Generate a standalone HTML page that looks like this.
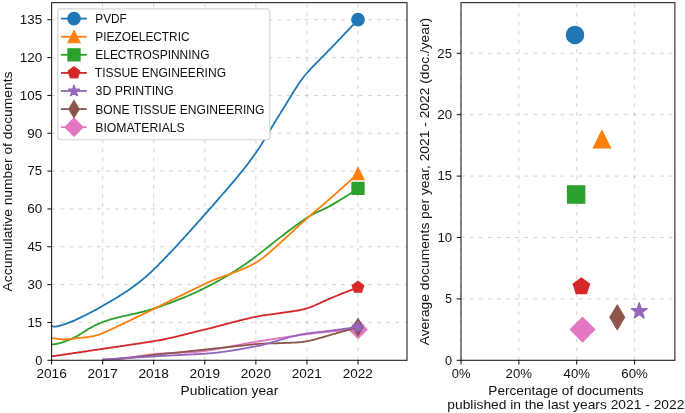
<!DOCTYPE html>
<html><head><meta charset="utf-8"><title>chart</title>
<style>html,body{margin:0;padding:0;background:#fff;width:685px;height:413px;overflow:hidden}</style>
</head><body>
<svg width="685" height="413" viewBox="0 0 685 413" style="display:block;will-change:transform">
<rect width="685" height="413" fill="#fff"/>
<g>
<path d="M51.6 360.3V2.66" stroke="#b0b0b0" stroke-opacity="0.6" stroke-width="0.97" stroke-dasharray="3.6 5.45" fill="none"/>
<path d="M102.67 360.3V2.66" stroke="#b0b0b0" stroke-opacity="0.6" stroke-width="0.97" stroke-dasharray="3.6 5.45" fill="none"/>
<path d="M153.73 360.3V2.66" stroke="#b0b0b0" stroke-opacity="0.6" stroke-width="0.97" stroke-dasharray="3.6 5.45" fill="none"/>
<path d="M204.8 360.3V2.66" stroke="#b0b0b0" stroke-opacity="0.6" stroke-width="0.97" stroke-dasharray="3.6 5.45" fill="none"/>
<path d="M255.87 360.3V2.66" stroke="#b0b0b0" stroke-opacity="0.6" stroke-width="0.97" stroke-dasharray="3.6 5.45" fill="none"/>
<path d="M306.94 360.3V2.66" stroke="#b0b0b0" stroke-opacity="0.6" stroke-width="0.97" stroke-dasharray="3.6 5.45" fill="none"/>
<path d="M358 360.3V2.66" stroke="#b0b0b0" stroke-opacity="0.6" stroke-width="0.97" stroke-dasharray="3.6 5.45" fill="none"/>
<path d="M51.6 360.3H407" stroke="#b0b0b0" stroke-opacity="0.6" stroke-width="0.97" stroke-dasharray="3.6 5.45" fill="none"/>
<path d="M51.6 322.46H407" stroke="#b0b0b0" stroke-opacity="0.6" stroke-width="0.97" stroke-dasharray="3.6 5.45" fill="none"/>
<path d="M51.6 284.62H407" stroke="#b0b0b0" stroke-opacity="0.6" stroke-width="0.97" stroke-dasharray="3.6 5.45" fill="none"/>
<path d="M51.6 246.78H407" stroke="#b0b0b0" stroke-opacity="0.6" stroke-width="0.97" stroke-dasharray="3.6 5.45" fill="none"/>
<path d="M51.6 208.94H407" stroke="#b0b0b0" stroke-opacity="0.6" stroke-width="0.97" stroke-dasharray="3.6 5.45" fill="none"/>
<path d="M51.6 171.1H407" stroke="#b0b0b0" stroke-opacity="0.6" stroke-width="0.97" stroke-dasharray="3.6 5.45" fill="none"/>
<path d="M51.6 133.26H407" stroke="#b0b0b0" stroke-opacity="0.6" stroke-width="0.97" stroke-dasharray="3.6 5.45" fill="none"/>
<path d="M51.6 95.42H407" stroke="#b0b0b0" stroke-opacity="0.6" stroke-width="0.97" stroke-dasharray="3.6 5.45" fill="none"/>
<path d="M51.6 57.58H407" stroke="#b0b0b0" stroke-opacity="0.6" stroke-width="0.97" stroke-dasharray="3.6 5.45" fill="none"/>
<path d="M51.6 19.74H407" stroke="#b0b0b0" stroke-opacity="0.6" stroke-width="0.97" stroke-dasharray="3.6 5.45" fill="none"/>
<path d="M102.67 359.75 103.74 359.68 104.8 359.6 105.87 359.53 106.94 359.45 108.01 359.37 109.08 359.29 110.15 359.2 111.21 359.11 112.28 359.03 113.35 358.93 114.42 358.84 115.49 358.75 116.56 358.65 117.62 358.55 118.69 358.45 119.76 358.35 120.83 358.25 121.9 358.14 122.97 358.04 124.03 357.93 125.1 357.82 126.17 357.71 127.24 357.6 128.31 357.49 129.38 357.37 130.44 357.25 131.51 357.12 132.58 356.99 133.65 356.85 134.72 356.71 135.79 356.56 136.85 356.41 137.92 356.26 138.99 356.11 140.06 355.96 141.13 355.8 142.2 355.65 143.26 355.49 144.33 355.34 145.4 355.19 146.47 355.03 147.54 354.89 148.61 354.74 149.67 354.6 150.74 354.46 151.81 354.33 152.88 354.2 153.95 354.08 155.02 353.96 156.08 353.85 157.15 353.75 158.22 353.66 159.29 353.58 160.36 353.5 161.43 353.42 162.49 353.36 163.56 353.29 164.63 353.24 165.7 353.18 166.77 353.14 167.84 353.09 168.9 353.05 169.97 353.01 171.04 352.97 172.11 352.94 173.18 352.91 174.25 352.88 175.31 352.85 176.38 352.82 177.45 352.79 178.52 352.77 179.59 352.74 180.66 352.71 181.72 352.68 182.79 352.65 183.86 352.61 184.93 352.58 186 352.54 187.07 352.5 188.13 352.45 189.2 352.4 190.27 352.35 191.34 352.29 192.41 352.23 193.48 352.16 194.54 352.08 195.61 352 196.68 351.91 197.75 351.82 198.82 351.72 199.89 351.61 200.95 351.49 202.02 351.37 203.09 351.23 204.16 351.09 205.23 350.94 206.3 350.78 207.37 350.62 208.43 350.45 209.5 350.28 210.57 350.11 211.64 349.94 212.71 349.76 213.78 349.58 214.84 349.39 215.91 349.2 216.98 349.01 218.05 348.82 219.12 348.63 220.19 348.43 221.25 348.23 222.32 348.03 223.39 347.83 224.46 347.63 225.53 347.42 226.6 347.22 227.66 347.01 228.73 346.8 229.8 346.6 230.87 346.39 231.94 346.18 233.01 345.97 234.07 345.76 235.14 345.56 236.21 345.35 237.28 345.14 238.35 344.94 239.42 344.73 240.48 344.53 241.55 344.32 242.62 344.12 243.69 343.92 244.76 343.72 245.83 343.53 246.89 343.33 247.96 343.14 249.03 342.95 250.1 342.76 251.17 342.58 252.24 342.4 253.3 342.22 254.37 342.04 255.44 341.87 256.51 341.7 257.58 341.53 258.65 341.36 259.71 341.19 260.78 341.02 261.85 340.85 262.92 340.68 263.99 340.51 265.06 340.34 266.12 340.18 267.19 340.01 268.26 339.84 269.33 339.67 270.4 339.51 271.47 339.34 272.53 339.17 273.6 339.01 274.67 338.84 275.74 338.68 276.81 338.51 277.88 338.35 278.94 338.18 280.01 338.02 281.08 337.86 282.15 337.7 283.22 337.54 284.29 337.38 285.35 337.22 286.42 337.06 287.49 336.9 288.56 336.74 289.63 336.59 290.7 336.43 291.76 336.28 292.83 336.12 293.9 335.97 294.97 335.82 296.04 335.67 297.11 335.52 298.17 335.37 299.24 335.22 300.31 335.08 301.38 334.93 302.45 334.79 303.52 334.65 304.58 334.51 305.65 334.37 306.72 334.23 307.79 334.09 308.86 333.96 309.93 333.82 310.99 333.69 312.06 333.56 313.13 333.43 314.2 333.31 315.27 333.18 316.34 333.06 317.4 332.94 318.47 332.82 319.54 332.7 320.61 332.59 321.68 332.47 322.75 332.36 323.81 332.25 324.88 332.14 325.95 332.03 327.02 331.92 328.09 331.82 329.16 331.71 330.22 331.61 331.29 331.51 332.36 331.41 333.43 331.31 334.5 331.22 335.57 331.12 336.64 331.03 337.7 330.94 338.77 330.85 339.84 330.76 340.91 330.67 341.98 330.58 343.05 330.49 344.11 330.41 345.18 330.32 346.25 330.24 347.32 330.16 348.39 330.08 349.46 330 350.52 329.92 351.59 329.84 352.66 329.77 353.73 329.69 354.8 329.62 355.87 329.54 356.93 329.47 358 329.4" fill="none" stroke="#e377c2" stroke-width="1.815" stroke-linejoin="round" stroke-linecap="butt"/>
<path d="M358 320.42 L366.99 329.4 L358 338.38 L349.02 329.4Z" fill="#e377c2" stroke="#e377c2" stroke-width="1.21" stroke-linejoin="miter"/>
<path d="M102.67 359.75 103.74 359.7 104.8 359.65 105.87 359.6 106.94 359.55 108.01 359.5 109.08 359.45 110.15 359.39 111.21 359.33 112.28 359.27 113.35 359.21 114.42 359.14 115.49 359.08 116.56 359 117.62 358.93 118.69 358.85 119.76 358.77 120.83 358.69 121.9 358.6 122.97 358.51 124.03 358.41 125.1 358.31 126.17 358.21 127.24 358.1 128.31 357.99 129.38 357.87 130.44 357.75 131.51 357.63 132.58 357.51 133.65 357.38 134.72 357.25 135.79 357.13 136.85 357 137.92 356.87 138.99 356.74 140.06 356.61 141.13 356.47 142.2 356.34 143.26 356.21 144.33 356.08 145.4 355.95 146.47 355.83 147.54 355.7 148.61 355.57 149.67 355.45 150.74 355.33 151.81 355.21 152.88 355.09 153.95 354.98 155.02 354.86 156.08 354.75 157.15 354.64 158.22 354.52 159.29 354.41 160.36 354.3 161.43 354.18 162.49 354.07 163.56 353.96 164.63 353.85 165.7 353.73 166.77 353.62 167.84 353.51 168.9 353.39 169.97 353.28 171.04 353.17 172.11 353.05 173.18 352.94 174.25 352.83 175.31 352.72 176.38 352.6 177.45 352.49 178.52 352.38 179.59 352.27 180.66 352.15 181.72 352.04 182.79 351.93 183.86 351.81 184.93 351.7 186 351.59 187.07 351.48 188.13 351.36 189.2 351.25 190.27 351.14 191.34 351.02 192.41 350.91 193.48 350.8 194.54 350.69 195.61 350.57 196.68 350.46 197.75 350.35 198.82 350.23 199.89 350.12 200.95 350.01 202.02 349.89 203.09 349.78 204.16 349.67 205.23 349.55 206.3 349.44 207.37 349.33 208.43 349.21 209.5 349.1 210.57 348.98 211.64 348.87 212.71 348.75 213.78 348.64 214.84 348.52 215.91 348.41 216.98 348.29 218.05 348.18 219.12 348.06 220.19 347.94 221.25 347.83 222.32 347.71 223.39 347.59 224.46 347.48 225.53 347.36 226.6 347.25 227.66 347.13 228.73 347.01 229.8 346.9 230.87 346.78 231.94 346.66 233.01 346.55 234.07 346.43 235.14 346.31 236.21 346.2 237.28 346.08 238.35 345.97 239.42 345.85 240.48 345.74 241.55 345.62 242.62 345.5 243.69 345.39 244.76 345.28 245.83 345.16 246.89 345.05 247.96 344.93 249.03 344.82 250.1 344.71 251.17 344.59 252.24 344.48 253.3 344.37 254.37 344.26 255.44 344.14 256.51 344.04 257.58 343.94 258.65 343.85 259.71 343.77 260.78 343.71 261.85 343.65 262.92 343.6 263.99 343.55 265.06 343.52 266.12 343.48 267.19 343.45 268.26 343.43 269.33 343.41 270.4 343.39 271.47 343.37 272.53 343.35 273.6 343.33 274.67 343.31 275.74 343.29 276.81 343.26 277.88 343.24 278.94 343.2 280.01 343.16 281.08 343.12 282.15 343.07 283.22 343.02 284.29 342.98 285.35 342.94 286.42 342.9 287.49 342.87 288.56 342.83 289.63 342.79 290.7 342.75 291.76 342.71 292.83 342.67 293.9 342.61 294.97 342.56 296.04 342.49 297.11 342.42 298.17 342.34 299.24 342.25 300.31 342.14 301.38 342.03 302.45 341.9 303.52 341.76 304.58 341.6 305.65 341.43 306.72 341.24 307.79 341.03 308.86 340.82 309.93 340.59 310.99 340.35 312.06 340.1 313.13 339.85 314.2 339.58 315.27 339.31 316.34 339.03 317.4 338.74 318.47 338.45 319.54 338.16 320.61 337.86 321.68 337.55 322.75 337.24 323.81 336.93 324.88 336.62 325.95 336.31 327.02 335.99 328.09 335.68 329.16 335.36 330.22 335.05 331.29 334.74 332.36 334.43 333.43 334.12 334.5 333.82 335.57 333.51 336.64 333.21 337.7 332.9 338.77 332.6 339.84 332.29 340.91 331.99 341.98 331.68 343.05 331.37 344.11 331.07 345.18 330.76 346.25 330.45 347.32 330.15 348.39 329.84 349.46 329.53 350.52 329.22 351.59 328.9 352.66 328.59 353.73 328.27 354.8 327.96 355.87 327.64 356.93 327.32 358 327" fill="none" stroke="#8c564b" stroke-width="1.815" stroke-linejoin="round" stroke-linecap="butt"/>
<path d="M358 318.44 L363.14 327 L358 335.56 L352.87 327Z" fill="#8c564b" stroke="#8c564b" stroke-width="1.21" stroke-linejoin="miter"/>
<path d="M102.67 359.75 103.74 359.67 104.8 359.6 105.87 359.52 106.94 359.45 108.01 359.37 109.08 359.3 110.15 359.22 111.21 359.15 112.28 359.08 113.35 359 114.42 358.93 115.49 358.85 116.56 358.78 117.62 358.71 118.69 358.64 119.76 358.56 120.83 358.49 121.9 358.42 122.97 358.35 124.03 358.28 125.1 358.21 126.17 358.13 127.24 358.06 128.31 357.99 129.38 357.92 130.44 357.85 131.51 357.78 132.58 357.71 133.65 357.65 134.72 357.58 135.79 357.51 136.85 357.44 137.92 357.38 138.99 357.31 140.06 357.24 141.13 357.18 142.2 357.11 143.26 357.04 144.33 356.98 145.4 356.91 146.47 356.85 147.54 356.78 148.61 356.72 149.67 356.65 150.74 356.58 151.81 356.52 152.88 356.45 153.95 356.39 155.02 356.32 156.08 356.26 157.15 356.19 158.22 356.13 159.29 356.07 160.36 356.01 161.43 355.95 162.49 355.89 163.56 355.83 164.63 355.78 165.7 355.72 166.77 355.66 167.84 355.61 168.9 355.55 169.97 355.5 171.04 355.45 172.11 355.39 173.18 355.34 174.25 355.29 175.31 355.23 176.38 355.18 177.45 355.13 178.52 355.08 179.59 355.03 180.66 354.97 181.72 354.92 182.79 354.87 183.86 354.82 184.93 354.76 186 354.71 187.07 354.66 188.13 354.61 189.2 354.55 190.27 354.5 191.34 354.44 192.41 354.39 193.48 354.33 194.54 354.28 195.61 354.22 196.68 354.16 197.75 354.11 198.82 354.05 199.89 353.99 200.95 353.93 202.02 353.86 203.09 353.8 204.16 353.74 205.23 353.67 206.3 353.6 207.37 353.53 208.43 353.45 209.5 353.36 210.57 353.27 211.64 353.18 212.71 353.08 213.78 352.97 214.84 352.86 215.91 352.75 216.98 352.63 218.05 352.5 219.12 352.38 220.19 352.25 221.25 352.11 222.32 351.97 223.39 351.83 224.46 351.68 225.53 351.53 226.6 351.38 227.66 351.22 228.73 351.06 229.8 350.9 230.87 350.74 231.94 350.57 233.01 350.4 234.07 350.22 235.14 350.05 236.21 349.87 237.28 349.69 238.35 349.5 239.42 349.32 240.48 349.13 241.55 348.94 242.62 348.75 243.69 348.56 244.76 348.37 245.83 348.17 246.89 347.98 247.96 347.78 249.03 347.58 250.1 347.38 251.17 347.18 252.24 346.98 253.3 346.78 254.37 346.58 255.44 346.38 256.51 346.18 257.58 345.96 258.65 345.74 259.71 345.51 260.78 345.27 261.85 345.02 262.92 344.76 263.99 344.49 265.06 344.22 266.12 343.94 267.19 343.66 268.26 343.37 269.33 343.07 270.4 342.77 271.47 342.47 272.53 342.16 273.6 341.85 274.67 341.54 275.74 341.23 276.81 340.91 277.88 340.6 278.94 340.28 280.01 339.96 281.08 339.65 282.15 339.33 283.22 339.02 284.29 338.71 285.35 338.4 286.42 338.09 287.49 337.79 288.56 337.49 289.63 337.2 290.7 336.91 291.76 336.63 292.83 336.35 293.9 336.08 294.97 335.82 296.04 335.56 297.11 335.31 298.17 335.07 299.24 334.84 300.31 334.62 301.38 334.41 302.45 334.21 303.52 334.02 304.58 333.85 305.65 333.68 306.72 333.53 307.79 333.39 308.86 333.25 309.93 333.11 310.99 332.98 312.06 332.84 313.13 332.71 314.2 332.59 315.27 332.46 316.34 332.33 317.4 332.21 318.47 332.09 319.54 331.96 320.61 331.84 321.68 331.71 322.75 331.59 323.81 331.47 324.88 331.34 325.95 331.21 327.02 331.09 328.09 330.96 329.16 330.82 330.22 330.69 331.29 330.55 332.36 330.41 333.43 330.27 334.5 330.13 335.57 329.99 336.64 329.85 337.7 329.71 338.77 329.57 339.84 329.43 340.91 329.29 341.98 329.15 343.05 329.01 344.11 328.87 345.18 328.73 346.25 328.59 347.32 328.45 348.39 328.3 349.46 328.16 350.52 328.02 351.59 327.88 352.66 327.73 353.73 327.59 354.8 327.44 355.87 327.3 356.93 327.15 358 327" fill="none" stroke="#9467bd" stroke-width="1.815" stroke-linejoin="round" stroke-linecap="butt"/>
<path d="M358 320.95 L356.64 325.13 L352.25 325.13 L355.8 327.71 L354.45 331.89 L358 329.31 L361.56 331.89 L360.2 327.71 L363.76 325.13 L359.36 325.13Z" fill="#9467bd" stroke="#9467bd" stroke-width="1.21" stroke-linejoin="bevel"/>
<path d="M51.6 356.4 52.88 356.21 54.16 356.02 55.45 355.83 56.73 355.65 58.01 355.46 59.29 355.27 60.57 355.08 61.86 354.89 63.14 354.7 64.42 354.51 65.7 354.32 66.98 354.13 68.27 353.94 69.55 353.75 70.83 353.56 72.11 353.37 73.39 353.19 74.68 353 75.96 352.81 77.24 352.62 78.52 352.43 79.8 352.24 81.09 352.05 82.37 351.86 83.65 351.67 84.93 351.48 86.21 351.29 87.5 351.1 88.78 350.91 90.06 350.72 91.34 350.53 92.62 350.34 93.91 350.15 95.19 349.96 96.47 349.77 97.75 349.58 99.03 349.39 100.32 349.2 101.6 349.01 102.88 348.82 104.16 348.63 105.44 348.44 106.73 348.25 108.01 348.06 109.29 347.87 110.57 347.68 111.85 347.49 113.14 347.31 114.42 347.12 115.7 346.93 116.98 346.74 118.26 346.55 119.55 346.36 120.83 346.17 122.11 345.98 123.39 345.79 124.67 345.6 125.96 345.41 127.24 345.22 128.52 345.03 129.8 344.84 131.09 344.65 132.37 344.46 133.65 344.27 134.93 344.08 136.21 343.88 137.5 343.69 138.78 343.5 140.06 343.3 141.34 343.11 142.62 342.91 143.91 342.72 145.19 342.52 146.47 342.33 147.75 342.13 149.03 341.93 150.32 341.73 151.6 341.53 152.88 341.33 154.16 341.13 155.44 340.92 156.73 340.71 158.01 340.48 159.29 340.25 160.57 340.01 161.85 339.77 163.14 339.51 164.42 339.25 165.7 338.99 166.98 338.71 168.26 338.44 169.55 338.15 170.83 337.87 172.11 337.57 173.39 337.28 174.67 336.98 175.96 336.67 177.24 336.36 178.52 336.05 179.8 335.74 181.08 335.42 182.37 335.1 183.65 334.78 184.93 334.46 186.21 334.14 187.49 333.82 188.78 333.49 190.06 333.17 191.34 332.84 192.62 332.52 193.9 332.19 195.19 331.87 196.47 331.55 197.75 331.22 199.03 330.91 200.31 330.59 201.6 330.27 202.88 329.96 204.16 329.65 205.44 329.35 206.72 329.04 208.01 328.72 209.29 328.41 210.57 328.09 211.85 327.77 213.13 327.44 214.42 327.11 215.7 326.78 216.98 326.45 218.26 326.12 219.54 325.78 220.83 325.44 222.11 325.11 223.39 324.77 224.67 324.43 225.95 324.09 227.24 323.75 228.52 323.42 229.8 323.08 231.08 322.74 232.36 322.41 233.65 322.07 234.93 321.74 236.21 321.41 237.49 321.08 238.77 320.75 240.06 320.43 241.34 320.11 242.62 319.79 243.9 319.48 245.18 319.17 246.47 318.86 247.75 318.56 249.03 318.26 250.31 317.96 251.59 317.67 252.88 317.39 254.16 317.11 255.44 316.84 256.72 316.57 258 316.32 259.29 316.09 260.57 315.87 261.85 315.65 263.13 315.45 264.41 315.26 265.7 315.07 266.98 314.89 268.26 314.72 269.54 314.55 270.82 314.38 272.11 314.21 273.39 314.04 274.67 313.87 275.95 313.7 277.23 313.52 278.52 313.34 279.8 313.15 281.08 312.95 282.36 312.75 283.65 312.56 284.93 312.38 286.21 312.2 287.49 312.03 288.77 311.85 290.06 311.68 291.34 311.51 292.62 311.33 293.9 311.14 295.18 310.94 296.47 310.73 297.75 310.51 299.03 310.27 300.31 310.01 301.59 309.73 302.88 309.43 304.16 309.1 305.44 308.75 306.72 308.37 308 307.95 309.29 307.51 310.57 307.04 311.85 306.55 313.13 306.04 314.41 305.51 315.7 304.96 316.98 304.4 318.26 303.83 319.54 303.25 320.82 302.66 322.11 302.07 323.39 301.48 324.67 300.9 325.95 300.31 327.23 299.74 328.52 299.17 329.8 298.61 331.08 298.07 332.36 297.54 333.64 297.03 334.93 296.51 336.21 296 337.49 295.48 338.77 294.96 340.05 294.44 341.34 293.93 342.62 293.41 343.9 292.89 345.18 292.38 346.46 291.86 347.75 291.35 349.03 290.84 350.31 290.33 351.59 289.82 352.87 289.31 354.16 288.8 355.44 288.3 356.72 287.8 358 287.3" fill="none" stroke="#d62728" stroke-width="1.815" stroke-linejoin="round" stroke-linecap="butt"/>
<path d="M358 281.25 L352.25 285.43 L354.45 292.19 L361.56 292.19 L363.76 285.43Z" fill="#d62728" stroke="#d62728" stroke-width="1.21" stroke-linejoin="miter"/>
<path d="M51.6 344.55 52.88 344.39 54.16 344.21 55.45 344.01 56.73 343.77 58.01 343.5 59.29 343.21 60.57 342.88 61.86 342.51 63.14 342.12 64.42 341.68 65.7 341.22 66.98 340.73 68.27 340.22 69.55 339.69 70.83 339.13 72.11 338.55 73.39 337.94 74.68 337.3 75.96 336.63 77.24 335.94 78.52 335.21 79.8 334.45 81.09 333.65 82.37 332.84 83.65 332.02 84.93 331.2 86.21 330.39 87.5 329.6 88.78 328.84 90.06 328.11 91.34 327.41 92.62 326.72 93.91 326.05 95.19 325.4 96.47 324.77 97.75 324.17 99.03 323.59 100.32 323.03 101.6 322.51 102.88 322.02 104.16 321.55 105.44 321.1 106.73 320.67 108.01 320.26 109.29 319.85 110.57 319.47 111.85 319.09 113.14 318.73 114.42 318.38 115.7 318.04 116.98 317.71 118.26 317.39 119.55 317.07 120.83 316.77 122.11 316.47 123.39 316.17 124.67 315.88 125.96 315.59 127.24 315.31 128.52 315.03 129.8 314.75 131.09 314.47 132.37 314.18 133.65 313.9 134.93 313.62 136.21 313.33 137.5 313.03 138.78 312.74 140.06 312.43 141.34 312.12 142.62 311.8 143.91 311.48 145.19 311.14 146.47 310.8 147.75 310.44 149.03 310.07 150.32 309.69 151.6 309.29 152.88 308.88 154.16 308.46 155.44 308.03 156.73 307.59 158.01 307.16 159.29 306.72 160.57 306.27 161.85 305.83 163.14 305.38 164.42 304.92 165.7 304.47 166.98 304.01 168.26 303.54 169.55 303.07 170.83 302.6 172.11 302.12 173.39 301.63 174.67 301.15 175.96 300.65 177.24 300.15 178.52 299.65 179.8 299.14 181.08 298.63 182.37 298.11 183.65 297.59 184.93 297.06 186.21 296.52 187.49 295.98 188.78 295.43 190.06 294.87 191.34 294.31 192.62 293.74 193.9 293.17 195.19 292.59 196.47 292 197.75 291.41 199.03 290.8 200.31 290.19 201.6 289.58 202.88 288.95 204.16 288.32 205.44 287.68 206.72 287.03 208.01 286.38 209.29 285.72 210.57 285.05 211.85 284.38 213.13 283.7 214.42 283.01 215.7 282.32 216.98 281.61 218.26 280.9 219.54 280.19 220.83 279.46 222.11 278.73 223.39 277.99 224.67 277.25 225.95 276.49 227.24 275.73 228.52 274.96 229.8 274.18 231.08 273.39 232.36 272.6 233.65 271.8 234.93 270.99 236.21 270.17 237.49 269.34 238.77 268.5 240.06 267.66 241.34 266.8 242.62 265.94 243.9 265.07 245.18 264.19 246.47 263.3 247.75 262.4 249.03 261.5 250.31 260.58 251.59 259.65 252.88 258.72 254.16 257.77 255.44 256.82 256.72 255.86 258 254.88 259.29 253.89 260.57 252.9 261.85 251.89 263.13 250.88 264.41 249.86 265.7 248.84 266.98 247.81 268.26 246.78 269.54 245.75 270.82 244.73 272.11 243.7 273.39 242.67 274.67 241.65 275.95 240.63 277.23 239.62 278.52 238.62 279.8 237.63 281.08 236.64 282.36 235.67 283.65 234.69 284.93 233.72 286.21 232.74 287.49 231.77 288.77 230.8 290.06 229.83 291.34 228.87 292.62 227.92 293.9 226.97 295.18 226.02 296.47 225.08 297.75 224.16 299.03 223.24 300.31 222.32 301.59 221.42 302.88 220.53 304.16 219.66 305.44 218.79 306.72 217.94 308 217.11 309.29 216.33 310.57 215.58 311.85 214.87 313.13 214.18 314.41 213.53 315.7 212.89 316.98 212.27 318.26 211.66 319.54 211.07 320.82 210.47 322.11 209.88 323.39 209.28 324.67 208.68 325.95 208.07 327.23 207.43 328.52 206.78 329.8 206.11 331.08 205.4 332.36 204.66 333.64 203.9 334.93 203.14 336.21 202.37 337.49 201.6 338.77 200.83 340.05 200.05 341.34 199.26 342.62 198.47 343.9 197.68 345.18 196.87 346.46 196.06 347.75 195.25 349.03 194.43 350.31 193.6 351.59 192.76 352.87 191.92 354.16 191.06 355.44 190.2 356.72 189.33 358 188.45" fill="none" stroke="#2ca02c" stroke-width="1.815" stroke-linejoin="round" stroke-linecap="butt"/>
<path d="M351.95 182.4 L364.05 182.4 L364.05 194.5 L351.95 194.5Z" fill="#2ca02c" stroke="#2ca02c" stroke-width="1.21" stroke-linejoin="miter"/>
<path d="M51.6 337.95 52.88 338.2 54.16 338.42 55.45 338.63 56.73 338.81 58.01 338.96 59.29 339.09 60.57 339.19 61.86 339.26 63.14 339.3 64.42 339.3 65.7 339.27 66.98 339.22 68.27 339.15 69.55 339.06 70.83 338.96 72.11 338.83 73.39 338.7 74.68 338.55 75.96 338.4 77.24 338.24 78.52 338.08 79.8 337.93 81.09 337.79 82.37 337.65 83.65 337.52 84.93 337.38 86.21 337.23 87.5 337.07 88.78 336.9 90.06 336.71 91.34 336.5 92.62 336.27 93.91 336.01 95.19 335.72 96.47 335.39 97.75 335.02 99.03 334.61 100.32 334.16 101.6 333.66 102.88 333.1 104.16 332.53 105.44 331.95 106.73 331.37 108.01 330.79 109.29 330.2 110.57 329.62 111.85 329.03 113.14 328.43 114.42 327.84 115.7 327.24 116.98 326.64 118.26 326.04 119.55 325.43 120.83 324.83 122.11 324.22 123.39 323.61 124.67 323 125.96 322.38 127.24 321.77 128.52 321.15 129.8 320.54 131.09 319.92 132.37 319.3 133.65 318.68 134.93 318.06 136.21 317.44 137.5 316.81 138.78 316.19 140.06 315.57 141.34 314.94 142.62 314.32 143.91 313.69 145.19 313.07 146.47 312.44 147.75 311.82 149.03 311.19 150.32 310.57 151.6 309.94 152.88 309.32 154.16 308.69 155.44 308.07 156.73 307.44 158.01 306.82 159.29 306.19 160.57 305.57 161.85 304.94 163.14 304.31 164.42 303.68 165.7 303.06 166.98 302.43 168.26 301.8 169.55 301.17 170.83 300.54 172.11 299.92 173.39 299.29 174.67 298.66 175.96 298.03 177.24 297.4 178.52 296.77 179.8 296.14 181.08 295.51 182.37 294.88 183.65 294.25 184.93 293.62 186.21 292.99 187.49 292.37 188.78 291.74 190.06 291.11 191.34 290.48 192.62 289.85 193.9 289.22 195.19 288.6 196.47 287.97 197.75 287.34 199.03 286.71 200.31 286.09 201.6 285.46 202.88 284.84 204.16 284.21 205.44 283.59 206.72 282.98 208.01 282.4 209.29 281.83 210.57 281.27 211.85 280.73 213.13 280.21 214.42 279.69 215.7 279.19 216.98 278.7 218.26 278.22 219.54 277.74 220.83 277.27 222.11 276.81 223.39 276.35 224.67 275.89 225.95 275.44 227.24 274.98 228.52 274.53 229.8 274.07 231.08 273.61 232.36 273.15 233.65 272.68 234.93 272.21 236.21 271.73 237.49 271.24 238.77 270.74 240.06 270.23 241.34 269.71 242.62 269.18 243.9 268.63 245.18 268.06 246.47 267.48 247.75 266.88 249.03 266.26 250.31 265.63 251.59 264.97 252.88 264.28 254.16 263.58 255.44 262.85 256.72 262.09 258 261.28 259.29 260.44 260.57 259.55 261.85 258.62 263.13 257.66 264.41 256.67 265.7 255.64 266.98 254.6 268.26 253.52 269.54 252.43 270.82 251.32 272.11 250.19 273.39 249.05 274.67 247.9 275.95 246.74 277.23 245.58 278.52 244.41 279.8 243.25 281.08 242.09 282.36 240.93 283.65 239.77 284.93 238.6 286.21 237.42 287.49 236.24 288.77 235.06 290.06 233.87 291.34 232.69 292.62 231.5 293.9 230.31 295.18 229.13 296.47 227.95 297.75 226.77 299.03 225.59 300.31 224.42 301.59 223.26 302.88 222.1 304.16 220.96 305.44 219.82 306.72 218.69 308 217.57 309.29 216.45 310.57 215.34 311.85 214.24 313.13 213.14 314.41 212.04 315.7 210.94 316.98 209.85 318.26 208.75 319.54 207.66 320.82 206.57 322.11 205.47 323.39 204.37 324.67 203.28 325.95 202.17 327.23 201.07 328.52 199.96 329.8 198.84 331.08 197.72 332.36 196.59 333.64 195.46 334.93 194.33 336.21 193.19 337.49 192.06 338.77 190.92 340.05 189.78 341.34 188.64 342.62 187.49 343.9 186.35 345.18 185.2 346.46 184.05 347.75 182.9 349.03 181.74 350.31 180.59 351.59 179.43 352.87 178.27 354.16 177.11 355.44 175.94 356.72 174.77 358 173.6" fill="none" stroke="#ff7f0e" stroke-width="1.815" stroke-linejoin="round" stroke-linecap="butt"/>
<path d="M358 167.55 L351.95 179.65 L364.05 179.65Z" fill="#ff7f0e" stroke="#ff7f0e" stroke-width="1.21" stroke-linejoin="miter"/>
<path d="M51.6 326 52.88 326.37 54.16 326.61 55.45 326.67 56.73 326.49 58.01 326.18 59.29 325.85 60.57 325.49 61.86 325.12 63.14 324.72 64.42 324.31 65.7 323.88 66.98 323.43 68.27 322.96 69.55 322.47 70.83 321.96 72.11 321.43 73.39 320.89 74.68 320.33 75.96 319.75 77.24 319.15 78.52 318.54 79.8 317.93 81.09 317.31 82.37 316.68 83.65 316.05 84.93 315.42 86.21 314.78 87.5 314.13 88.78 313.47 90.06 312.81 91.34 312.14 92.62 311.47 93.91 310.78 95.19 310.09 96.47 309.39 97.75 308.69 99.03 307.97 100.32 307.25 101.6 306.52 102.88 305.78 104.16 305.03 105.44 304.29 106.73 303.54 108.01 302.79 109.29 302.04 110.57 301.29 111.85 300.53 113.14 299.77 114.42 299 115.7 298.23 116.98 297.45 118.26 296.66 119.55 295.87 120.83 295.06 122.11 294.25 123.39 293.43 124.67 292.59 125.96 291.75 127.24 290.9 128.52 290.03 129.8 289.15 131.09 288.25 132.37 287.34 133.65 286.42 134.93 285.48 136.21 284.53 137.5 283.55 138.78 282.56 140.06 281.56 141.34 280.53 142.62 279.48 143.91 278.42 145.19 277.33 146.47 276.22 147.75 275.09 149.03 273.93 150.32 272.76 151.6 271.56 152.88 270.33 154.16 269.08 155.44 267.82 156.73 266.55 158.01 265.27 159.29 263.98 160.57 262.68 161.85 261.37 163.14 260.06 164.42 258.74 165.7 257.41 166.98 256.08 168.26 254.74 169.55 253.39 170.83 252.03 172.11 250.67 173.39 249.3 174.67 247.93 175.96 246.55 177.24 245.16 178.52 243.78 179.8 242.38 181.08 240.98 182.37 239.58 183.65 238.17 184.93 236.76 186.21 235.34 187.49 233.92 188.78 232.5 190.06 231.07 191.34 229.64 192.62 228.21 193.9 226.77 195.19 225.33 196.47 223.89 197.75 222.45 199.03 221.01 200.31 219.57 201.6 218.12 202.88 216.67 204.16 215.22 205.44 213.78 206.72 212.33 208.01 210.87 209.29 209.42 210.57 207.96 211.85 206.5 213.13 205.04 214.42 203.58 215.7 202.11 216.98 200.65 218.26 199.18 219.54 197.7 220.83 196.23 222.11 194.75 223.39 193.27 224.67 191.79 225.95 190.3 227.24 188.81 228.52 187.32 229.8 185.82 231.08 184.33 232.36 182.83 233.65 181.32 234.93 179.81 236.21 178.29 237.49 176.76 238.77 175.22 240.06 173.67 241.34 172.1 242.62 170.52 243.9 168.92 245.18 167.3 246.47 165.65 247.75 163.99 249.03 162.3 250.31 160.58 251.59 158.84 252.88 157.06 254.16 155.26 255.44 153.42 256.72 151.55 258 149.63 259.29 147.67 260.57 145.68 261.85 143.65 263.13 141.6 264.41 139.52 265.7 137.43 266.98 135.31 268.26 133.19 269.54 131.05 270.82 128.91 272.11 126.78 273.39 124.64 274.67 122.51 275.95 120.39 277.23 118.29 278.52 116.2 279.8 114.14 281.08 112.1 282.36 110.08 283.65 108.03 284.93 105.95 286.21 103.85 287.49 101.74 288.77 99.63 290.06 97.52 291.34 95.41 292.62 93.33 293.9 91.26 295.18 89.22 296.47 87.22 297.75 85.26 299.03 83.34 300.31 81.48 301.59 79.68 302.88 77.95 304.16 76.3 305.44 74.72 306.72 73.24 308 71.82 309.29 70.42 310.57 69.05 311.85 67.69 313.13 66.34 314.41 65.01 315.7 63.69 316.98 62.38 318.26 61.07 319.54 59.78 320.82 58.48 322.11 57.19 323.39 55.9 324.67 54.61 325.95 53.31 327.23 52.01 328.52 50.7 329.8 49.38 331.08 48.05 332.36 46.71 333.64 45.36 334.93 44.01 336.21 42.67 337.49 41.32 338.77 39.97 340.05 38.63 341.34 37.28 342.62 35.93 343.9 34.59 345.18 33.24 346.46 31.89 347.75 30.54 349.03 29.19 350.31 27.84 351.59 26.49 352.87 25.14 354.16 23.78 355.44 22.42 356.72 21.06 358 19.7" fill="none" stroke="#1f77b4" stroke-width="1.815" stroke-linejoin="round" stroke-linecap="butt"/>
<circle cx="358" cy="19.7" r="6.23" fill="#1f77b4" stroke="#1f77b4" stroke-width="1.21"/>
</g>
<rect x="51.6" y="2.66" width="355.4" height="357.64" fill="none" stroke="#1a1a1a" stroke-width="1.05" stroke-linejoin="miter"/>
<path d="M51.6 360.3v4.24 M102.67 360.3v4.24 M153.73 360.3v4.24 M204.8 360.3v4.24 M255.87 360.3v4.24 M306.94 360.3v4.24 M358 360.3v4.24 M51.6 360.3h-4.24 M51.6 322.46h-4.24 M51.6 284.62h-4.24 M51.6 246.78h-4.24 M51.6 208.94h-4.24 M51.6 171.1h-4.24 M51.6 133.26h-4.24 M51.6 95.42h-4.24 M51.6 57.58h-4.24 M51.6 19.74h-4.24" stroke="#000" stroke-width="0.97" fill="none"/>
<g font-family="'Liberation Sans', sans-serif" font-size="12.8" fill="#111">
<text x="36.4" y="377.6" textLength="30.43" lengthAdjust="spacingAndGlyphs">2016</text>
<text x="87.47" y="377.6" textLength="30.24" lengthAdjust="spacingAndGlyphs">2017</text>
<text x="138.54" y="377.6" textLength="30.36" lengthAdjust="spacingAndGlyphs">2018</text>
<text x="189.6" y="377.6" textLength="30.39" lengthAdjust="spacingAndGlyphs">2019</text>
<text x="240.67" y="377.6" textLength="30.32" lengthAdjust="spacingAndGlyphs">2020</text>
<text x="291.74" y="377.6" textLength="30.13" lengthAdjust="spacingAndGlyphs">2021</text>
<text x="342.81" y="377.6" textLength="30.06" lengthAdjust="spacingAndGlyphs">2022</text>
<text x="35.2" y="364.65" textLength="7.09" lengthAdjust="spacingAndGlyphs">0</text>
<text x="27.54" y="326.81" textLength="14.56" lengthAdjust="spacingAndGlyphs">15</text>
<text x="27.62" y="288.97" textLength="14.69" lengthAdjust="spacingAndGlyphs">30</text>
<text x="27.49" y="251.13" textLength="14.6" lengthAdjust="spacingAndGlyphs">45</text>
<text x="27.37" y="213.29" textLength="14.96" lengthAdjust="spacingAndGlyphs">60</text>
<text x="27.52" y="175.45" textLength="14.57" lengthAdjust="spacingAndGlyphs">75</text>
<text x="27.33" y="137.61" textLength="14.99" lengthAdjust="spacingAndGlyphs">90</text>
<text x="19.82" y="99.77" textLength="22.29" lengthAdjust="spacingAndGlyphs">105</text>
<text x="19.81" y="61.93" textLength="22.52" lengthAdjust="spacingAndGlyphs">120</text>
<text x="19.82" y="24.09" textLength="22.29" lengthAdjust="spacingAndGlyphs">135</text>
<text x="180.63" y="394.6" textLength="97.62" lengthAdjust="spacingAndGlyphs">Publication year</text>
<text x="-98.12" y="181.48" textLength="219.82" lengthAdjust="spacingAndGlyphs" transform="rotate(-90 11.8 181.48)">Accumulative number of documents</text>
</g>
<rect x="57.8" y="8.85" width="212" height="130.9" rx="3" ry="3" fill="#fff" stroke="#d6d6d6" stroke-width="1.21"/>
<g font-family="'Liberation Sans', sans-serif" font-size="12.8" fill="#111">
<path d="M61 18.6H86.8" stroke="#1f77b4" stroke-width="1.815" fill="none"/>
<circle cx="74" cy="18.6" r="6.23" fill="#1f77b4" stroke="#1f77b4" stroke-width="1.21"/>
<text x="95.32" y="23" textLength="31.4" lengthAdjust="spacingAndGlyphs">PVDF</text>
<path d="M61 36.7H86.8" stroke="#ff7f0e" stroke-width="1.815" fill="none"/>
<path d="M74 30.65 L67.95 42.75 L80.05 42.75Z" fill="#ff7f0e" stroke="#ff7f0e" stroke-width="1.21" stroke-linejoin="miter"/>
<text x="95.32" y="41.1" textLength="94.2" lengthAdjust="spacingAndGlyphs">PIEZOELECTRIC</text>
<path d="M61 54.8H86.8" stroke="#2ca02c" stroke-width="1.815" fill="none"/>
<path d="M67.95 48.75 L80.05 48.75 L80.05 60.85 L67.95 60.85Z" fill="#2ca02c" stroke="#2ca02c" stroke-width="1.21" stroke-linejoin="miter"/>
<text x="95.31" y="59.2" textLength="114.14" lengthAdjust="spacingAndGlyphs">ELECTROSPINNING</text>
<path d="M61 72.9H86.8" stroke="#d62728" stroke-width="1.815" fill="none"/>
<path d="M74 66.85 L68.25 71.03 L70.44 77.79 L77.56 77.79 L79.75 71.03Z" fill="#d62728" stroke="#d62728" stroke-width="1.21" stroke-linejoin="miter"/>
<text x="94.79" y="77.3" textLength="131.27" lengthAdjust="spacingAndGlyphs">TISSUE ENGINEERING</text>
<path d="M61 91H86.8" stroke="#9467bd" stroke-width="1.815" fill="none"/>
<path d="M74 84.95 L72.64 89.13 L68.25 89.13 L71.8 91.71 L70.44 95.89 L74 93.31 L77.56 95.89 L76.2 91.71 L79.75 89.13 L75.36 89.13Z" fill="#9467bd" stroke="#9467bd" stroke-width="1.21" stroke-linejoin="bevel"/>
<text x="95.55" y="95.4" textLength="78.05" lengthAdjust="spacingAndGlyphs">3D PRINTING</text>
<path d="M61 109.1H86.8" stroke="#8c564b" stroke-width="1.815" fill="none"/>
<path d="M74 100.54 L79.13 109.1 L74 117.66 L68.87 109.1Z" fill="#8c564b" stroke="#8c564b" stroke-width="1.21" stroke-linejoin="miter"/>
<text x="95.3" y="113.5" textLength="169.14" lengthAdjust="spacingAndGlyphs">BONE TISSUE ENGINEERING</text>
<path d="M61 127.2H86.8" stroke="#e377c2" stroke-width="1.815" fill="none"/>
<path d="M74 118.22 L82.98 127.2 L74 136.18 L65.02 127.2Z" fill="#e377c2" stroke="#e377c2" stroke-width="1.21" stroke-linejoin="miter"/>
<text x="95.29" y="131.6" textLength="89.51" lengthAdjust="spacingAndGlyphs">BIOMATERIALS</text>
</g>
<path d="M461 360.3V2.66" stroke="#b0b0b0" stroke-opacity="0.6" stroke-width="0.97" stroke-dasharray="3.6 5.45" fill="none"/>
<path d="M518.87 360.3V2.66" stroke="#b0b0b0" stroke-opacity="0.6" stroke-width="0.97" stroke-dasharray="3.6 5.45" fill="none"/>
<path d="M576.74 360.3V2.66" stroke="#b0b0b0" stroke-opacity="0.6" stroke-width="0.97" stroke-dasharray="3.6 5.45" fill="none"/>
<path d="M634.61 360.3V2.66" stroke="#b0b0b0" stroke-opacity="0.6" stroke-width="0.97" stroke-dasharray="3.6 5.45" fill="none"/>
<path d="M461 360.3H674.9" stroke="#b0b0b0" stroke-opacity="0.6" stroke-width="0.97" stroke-dasharray="3.6 5.45" fill="none"/>
<path d="M461 298.9H674.9" stroke="#b0b0b0" stroke-opacity="0.6" stroke-width="0.97" stroke-dasharray="3.6 5.45" fill="none"/>
<path d="M461 237.5H674.9" stroke="#b0b0b0" stroke-opacity="0.6" stroke-width="0.97" stroke-dasharray="3.6 5.45" fill="none"/>
<path d="M461 176.1H674.9" stroke="#b0b0b0" stroke-opacity="0.6" stroke-width="0.97" stroke-dasharray="3.6 5.45" fill="none"/>
<path d="M461 114.7H674.9" stroke="#b0b0b0" stroke-opacity="0.6" stroke-width="0.97" stroke-dasharray="3.6 5.45" fill="none"/>
<path d="M461 53.3H674.9" stroke="#b0b0b0" stroke-opacity="0.6" stroke-width="0.97" stroke-dasharray="3.6 5.45" fill="none"/>
<circle cx="575" cy="34.88" r="8.65" fill="#1f77b4" stroke="#1f77b4" stroke-width="1.21"/>
<path d="M601.91 130.61 L593.26 147.91 L610.56 147.91Z" fill="#ff7f0e" stroke="#ff7f0e" stroke-width="1.21" stroke-linejoin="miter"/>
<path d="M567.51 185.87 L584.81 185.87 L584.81 203.17 L567.51 203.17Z" fill="#2ca02c" stroke="#2ca02c" stroke-width="1.21" stroke-linejoin="miter"/>
<path d="M581.37 277.97 L573.14 283.95 L576.29 293.62 L586.45 293.62 L589.6 283.95Z" fill="#d62728" stroke="#d62728" stroke-width="1.21" stroke-linejoin="miter"/>
<path d="M639.24 302.53 L637.3 308.51 L631.01 308.51 L636.1 312.2 L634.16 318.18 L639.24 314.48 L644.32 318.18 L642.38 312.2 L647.47 308.51 L641.18 308.51Z" fill="#9467bd" stroke="#9467bd" stroke-width="1.21" stroke-linejoin="bevel"/>
<path d="M617.25 305.09 L624.59 317.32 L617.25 329.55 L609.91 317.32Z" fill="#8c564b" stroke="#8c564b" stroke-width="1.21" stroke-linejoin="miter"/>
<path d="M582.53 317.37 L594.76 329.6 L582.53 341.83 L570.29 329.6Z" fill="#e377c2" stroke="#e377c2" stroke-width="1.21" stroke-linejoin="miter"/>
<rect x="461" y="2.66" width="213.9" height="357.64" fill="none" stroke="#1a1a1a" stroke-width="1.05"/>
<path d="M461 360.3v4.24 M518.87 360.3v4.24 M576.74 360.3v4.24 M634.61 360.3v4.24 M461 360.3h-4.24 M461 298.9h-4.24 M461 237.5h-4.24 M461 176.1h-4.24 M461 114.7h-4.24 M461 53.3h-4.24" stroke="#000" stroke-width="0.97" fill="none"/>
<g font-family="'Liberation Sans', sans-serif" font-size="12.8" fill="#111">
<text x="451.69" y="377.6" textLength="18.7" lengthAdjust="spacingAndGlyphs">0%</text>
<text x="505.64" y="377.6" textLength="26.48" lengthAdjust="spacingAndGlyphs">20%</text>
<text x="563.58" y="377.6" textLength="26.41" lengthAdjust="spacingAndGlyphs">40%</text>
<text x="621.33" y="377.6" textLength="26.53" lengthAdjust="spacingAndGlyphs">60%</text>
<text x="445.12" y="364.65" textLength="7.09" lengthAdjust="spacingAndGlyphs">0</text>
<text x="445.27" y="303.25" textLength="6.69" lengthAdjust="spacingAndGlyphs">5</text>
<text x="437.44" y="241.85" textLength="14.8" lengthAdjust="spacingAndGlyphs">10</text>
<text x="437.46" y="180.45" textLength="14.56" lengthAdjust="spacingAndGlyphs">15</text>
<text x="437.34" y="119.05" textLength="14.9" lengthAdjust="spacingAndGlyphs">20</text>
<text x="437.35" y="57.65" textLength="14.67" lengthAdjust="spacingAndGlyphs">25</text>
<text x="488.33" y="395.2" textLength="155.31" lengthAdjust="spacingAndGlyphs">Percentage of documents</text>
<text x="447.34" y="408.5" textLength="237.01" lengthAdjust="spacingAndGlyphs">published in the last years 2021 - 2022</text>
<text x="265.54" y="181.48" textLength="327.41" lengthAdjust="spacingAndGlyphs" transform="rotate(-90 429.3 181.48)">Average documents per year, 2021 - 2022 (doc./year)</text>
</g>
</svg>
</body></html>
